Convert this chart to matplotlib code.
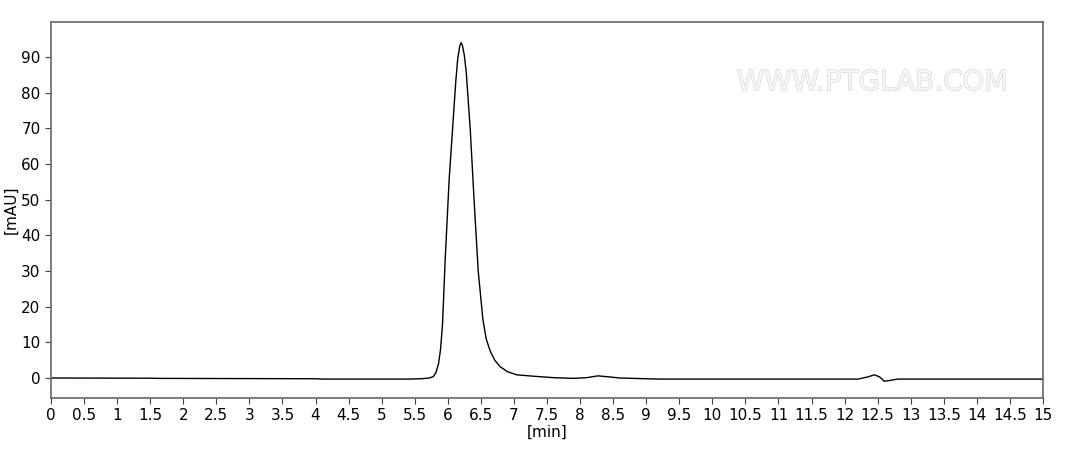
import matplotlib.pyplot as plt
import matplotlib.patheffects as pe
import numpy as np

# chromatogram trace (min, mAU)
time_min = [0.0, 1.5, 1.6, 4.0, 4.1, 5.4, 5.6, 5.72, 5.78, 5.82, 5.86, 5.89, 5.92, 5.96,
            6.02, 6.08, 6.12, 6.15, 6.18, 6.20, 6.22, 6.25, 6.28, 6.34, 6.40, 6.46,
            6.53, 6.58, 6.64, 6.71, 6.79, 6.9, 7.04, 7.3, 7.6, 7.9, 8.1, 8.27, 8.45,
            8.6, 9.2, 12.2, 12.35, 12.45, 12.53, 12.6, 12.68, 12.8, 15.0]
signal_mau = [0.0, -0.05, -0.1, -0.2, -0.3, -0.3, -0.2, 0.0, 0.4, 1.5, 4.0, 8.0, 15.0, 33.0,
              55.5, 72.0, 83.0, 89.5, 93.0, 94.0, 93.3, 90.5, 85.5, 69.5, 49.0, 30.0,
              16.5, 11.0, 7.6, 5.0, 3.2, 1.8, 0.9, 0.5, 0.1, -0.1, 0.1, 0.6, 0.3,
              0.0, -0.3, -0.3, 0.3, 0.9, 0.3, -0.9, -0.7, -0.3, -0.3]

xticks = np.arange(0, 15.01, 0.5)
xtick_labels = [f"{v:g}" for v in xticks]
yticks = list(range(0, 91, 10))

fig = plt.figure(figsize=(10.72, 4.49), dpi=100)
ax = fig.add_axes([51 / 1072, 51 / 449, 992 / 1072, 376 / 449])
ax.plot(time_min, signal_mau, color="black", lw=1.0)

ax.set_xlim(0, 15)
ax.set_ylim(-5.6, 99.8)
ax.set_xticks(xticks)
ax.set_xticklabels(xtick_labels)
ax.set_yticks(yticks)
ax.tick_params(labelsize=11, length=4, color="#444444")
ax.set_xlabel("[min]", fontsize=11, labelpad=1)
ax.set_ylabel("[mAU]", fontsize=11, labelpad=2)
for s in ax.spines.values():
    s.set_color("#666666")
    s.set_linewidth(1.2)

ax.text(0.965, 0.84, "WWW.PTGLAB.COM", transform=ax.transAxes, ha="right",
        va="center", fontsize=20, color="#f6f6f6",
        path_effects=[pe.withStroke(linewidth=0.8, foreground="#d4d4d4")])

fig.savefig("out.png", dpi=100)
